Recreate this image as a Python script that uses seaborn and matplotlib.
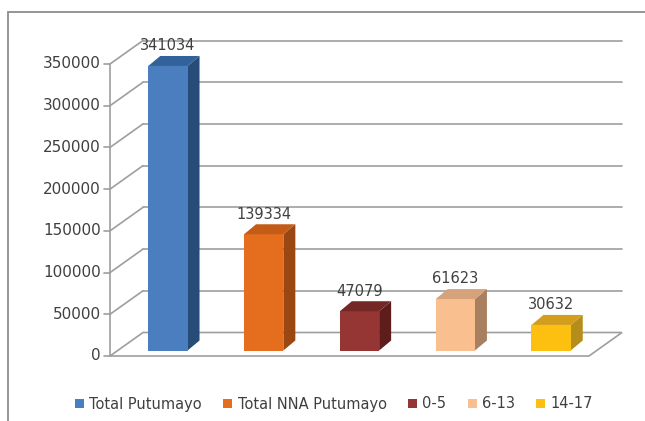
import matplotlib
matplotlib.use("Agg")
import matplotlib.pyplot as plt
import seaborn as sns
import numpy as np
import pandas as pd
from matplotlib.patches import Polygon, Patch, Rectangle
from matplotlib.lines import Line2D
from matplotlib.transforms import IdentityTransform

# ---- data ----
categories = ["Total Putumayo", "Total NNA Putumayo", "0-5", "6-13", "14-17"]
values = [341034, 139334, 47079, 61623, 30632]
yticks = [0, 50000, 100000, 150000, 200000, 250000, 300000, 350000]

front_colors = ["#4A7EBE", "#E46D1E", "#953634", "#F9BF8F", "#FDC010"]
side_colors = ["#284C78", "#9B4714", "#5E1D1B", "#A9805F", "#B58D1A"]
top_colors = ["#33619A", "#C45C17", "#732826", "#D6A27A", "#D39E1C"]

TEXT = "#404040"
GRID = "#9E9E9E"

sns.set_style("white")
plt.rcParams["font.family"] = ["DejaVu Sans"]

W, H = 645, 421
fig = plt.figure(figsize=(W / 100, H / 100), dpi=100)
fig.patch.set_facecolor("white")

ax = fig.add_axes([120 / W, (H - 350.5) / H, 479 / W, 292 / H])
df = pd.DataFrame({"cat": categories, "val": values})
sns.barplot(data=df, x="cat", y="val", hue="cat", palette=front_colors,
            width=0.41, ax=ax, legend=False, saturation=1,
            edgecolor="none", linewidth=0, zorder=3)
ax.set_xlim(-0.5, 4.5)
ax.set_ylim(0, 350000)
ax.axis("off")

ID = IdentityTransform()
front_off = np.array([-10.0, -5.5])
back_off = np.array([23.0, 18.0])
bar_d = np.array([12.0, 10.0])


def px(x, y):
    return ax.transData.transform((x, y))


def line(p, q, color=GRID, lw=1.2, z=1):
    ax.add_line(Line2D([p[0], q[0]], [p[1], q[1]], transform=ID, color=color,
                       lw=lw, clip_on=False, zorder=z))


# floor
fl = px(-0.5, 0) + front_off
fr = px(4.5, 0) + front_off
br = px(4.5, 0) + back_off
bl = px(-0.5, 0) + back_off
ax.add_patch(Polygon([fl, fr, br, bl], closed=True, transform=ID, facecolor="white",
                     edgecolor=GRID, lw=1.2, clip_on=False, zorder=1.5))

# grid on back wall + diagonals + front axis ticks/labels
for t in yticks:
    f = px(-0.5, t) + front_off
    b = px(-0.5, t) + back_off
    r = px(4.5, t) + back_off
    if t > 0:
        line(f, b)
        line(b, r)
    line(f, f - np.array([6, 0]))
    ax.text(f[0] - 9, f[1], f"{t}", transform=ID, ha="right", va="center",
            fontsize=11, color=TEXT, clip_on=False)
line(px(-0.5, 0) + front_off, px(-0.5, 350000) + front_off, z=1.6)

# 3D faces of bars
for i, p in enumerate(ax.patches[:len(values)]):
    x0 = p.get_x()
    x1 = x0 + p.get_width()
    h = p.get_height()
    a0 = px(x0, h)
    a1 = px(x1, h)
    b1 = px(x1, 0)
    side = [b1, a1, a1 + bar_d, b1 + bar_d]
    top = [a0, a1, a1 + bar_d, a0 + bar_d]
    ax.add_patch(Polygon(side, closed=True, transform=ID, facecolor=side_colors[i],
                         edgecolor="none", clip_on=False, zorder=2.9))
    ax.add_patch(Polygon(top, closed=True, transform=ID, facecolor=top_colors[i],
                         edgecolor="none", clip_on=False, zorder=3.1))
    ax.annotate(f"{values[i]}", (x0 + p.get_width() / 2, h), xytext=(0, 14.5),
                textcoords="offset points", ha="center", va="center",
                fontsize=10.5, color=TEXT, annotation_clip=False, zorder=4)

# outer border (right/bottom sides lie outside the canvas)
fig.add_artist(Rectangle((8 / W, -0.1), 1.0, (H - 12) / H + 0.1,
                         transform=fig.transFigure, fill=False,
                         edgecolor="#8C8C8C", lw=1.3))

handles = [Patch(facecolor=c, edgecolor="none", label=l)
           for c, l in zip(front_colors, categories)]
fig.legend(handles=handles, loc="center left", bbox_to_anchor=(74.8 / W, (H - 404) / H),
           ncol=5, frameon=False, fontsize=10.5, handlelength=0.62, handleheight=0.62,
           handletextpad=0.38, columnspacing=1.45, borderpad=0, borderaxespad=0,
           labelcolor=TEXT)

fig.savefig("out.png", dpi=100, facecolor="white")
